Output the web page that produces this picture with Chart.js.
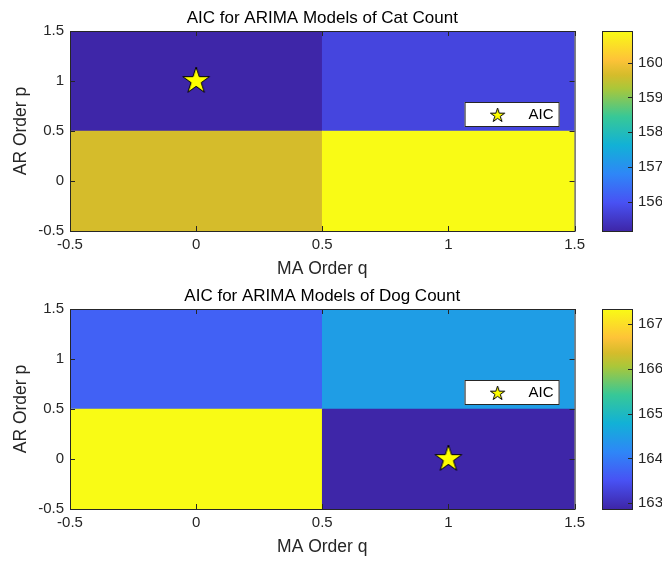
<!DOCTYPE html>
<html>
<head>
<meta charset="utf-8">
<title>AIC for ARIMA Models</title>
<script src="https://cdn.jsdelivr.net/npm/chart.js@4.4.1/dist/chart.umd.min.js"></script>
<style>
  body { margin: 0; background: #fff; }
  #wrap { position: relative; width: 662px; height: 561px; overflow: hidden; }
  #wrap canvas { position: absolute; }
</style>
</head>
<body>
<div id="wrap">
  <canvas id="catChart" width="590" height="280" style="left:0;top:0"></canvas>
  <canvas id="catBar" width="72" height="280" style="left:590px;top:0"></canvas>
  <canvas id="dogChart" width="590" height="280" style="left:0;top:278px"></canvas>
  <canvas id="dogBar" width="72" height="280" style="left:590px;top:278px"></canvas>
</div>
<script>
//Data
var maOrders = [0, 1];             // q, columns
var arOrders = [0, 1];             // p, rows
var catAicP0 = [159.65, 160.91];   // p = 0, q = 0 and 1
var catAicP1 = [155.16, 155.74];   // p = 1
var dogAicP0 = [167.34, 162.87];
var dogAicP1 = [163.69, 164.49];
var orderTicks = [-0.5, 0, 0.5, 1, 1.5];
var catBarTicks = [156, 157, 158, 159, 160];
var dogBarTicks = [163, 164, 165, 166, 167];

var FONT = "'Liberation Sans', Arial, sans-serif";
var INK = '#262626';

//parula colour map (approximate stops)
var parulaStops = [
  [0.000, 62, 38, 168],
  [0.143, 72, 82, 244],
  [0.286, 46, 135, 247],
  [0.429, 18, 177, 214],
  [0.571, 55, 200, 151],
  [0.714, 171, 199, 57],
  [0.780, 213, 188, 43],
  [0.857, 254, 195, 56],
  [1.000, 249, 251, 21]
];

function parula(t) {
  t = Math.max(0, Math.min(1, t));
  for (var i = 1; i < parulaStops.length; i++) {
    var b = parulaStops[i];
    if (t <= b[0]) {
      var a = parulaStops[i - 1];
      var f = (t - a[0]) / (b[0] - a[0]);
      return 'rgb(' + [1, 2, 3].map(function(k) {
        return Math.round(a[k] + f * (b[k] - a[k]));
      }).join(',') + ')';
    }
  }
  return 'rgb(249,251,21)';
}

//five point star used as point style
function makeStar(R) {
  var size = Math.ceil(2 * R + 4);
  var c = document.createElement('canvas');
  c.width = c.height = size;
  var g = c.getContext('2d');
  g.beginPath();
  for (var k = 0; k < 10; k++) {
    var r = k % 2 ? R * 0.382 : R;
    var ang = -Math.PI / 2 + k * Math.PI / 5;
    var px = size / 2 + r * Math.cos(ang), py = size / 2 + r * Math.sin(ang);
    if (k) g.lineTo(px, py); else g.moveTo(px, py);
  }
  g.closePath();
  g.fillStyle = '#ffff00';
  g.fill();
  g.strokeStyle = '#000';
  g.lineWidth = 1;
  g.stroke();
  return c;
}
var bigStar = makeStar(14);
var smallStar = makeStar(7.5);

//Box round the axes, with MATLAB style inner ticks
var axesBox = {
  id: 'axesBox',
  afterDatasetsDraw: function(chart, args, opts) {
    var ctx = chart.ctx, a = chart.chartArea, len = opts.len || 5;
    ctx.save();
    ctx.strokeStyle = INK;
    ctx.lineWidth = 1;
    ctx.beginPath();
    if (opts.x) {
      var xs = chart.scales[opts.x];
      xs.ticks.forEach(function(t) {
        var px = Math.round(xs.getPixelForValue(t.value)) + 0.5;
        ctx.moveTo(px, a.top); ctx.lineTo(px, a.top + len);
        ctx.moveTo(px, a.bottom); ctx.lineTo(px, a.bottom - len);
      });
    }
    if (opts.y) {
      var ys = chart.scales[opts.y];
      ys.ticks.forEach(function(t) {
        var py = Math.round(ys.getPixelForValue(t.value)) + 0.5;
        if (opts.left) { ctx.moveTo(a.left, py); ctx.lineTo(a.left + len, py); }
        if (opts.right) { ctx.moveTo(a.right, py); ctx.lineTo(a.right - len, py); }
      });
    }
    ctx.stroke();
    ctx.strokeRect(a.left + 0.5, a.top + 0.5, a.right - a.left, a.bottom - a.top);
    ctx.restore();
  }
};

//Legend box inside the axes (like MATLAB 'best')
var legendBox = {
  id: 'legendBox',
  afterDatasetsDraw: function(chart) {
    var ctx = chart.ctx, a = chart.chartArea;
    var ds = chart.data.datasets.filter(function(d) { return d.type === 'scatter'; })[0];
    var w = 95, h = 25;
    var x0 = a.right - 15 - w, y0 = a.top + 71;
    ctx.save();
    ctx.fillStyle = '#fff';
    ctx.fillRect(x0, y0, w, h);
    ctx.strokeStyle = INK;
    ctx.lineWidth = 1;
    ctx.strokeRect(x0 + 0.5, y0 + 0.5, w - 1, h - 1);
    ctx.drawImage(smallStar, x0 + 33 - smallStar.width / 2, y0 + h / 2 + 1 - smallStar.height / 2);
    ctx.fillStyle = '#000';
    ctx.font = '15px ' + FONT;
    ctx.textAlign = 'right';
    ctx.textBaseline = 'middle';
    ctx.fillText(ds.label, x0 + w - 6, y0 + h / 2 + 0.5);
    ctx.restore();
  }
};

function tickList(list) {
  return function(scale) {
    scale.ticks = list.map(function(v) { return { value: v }; });
  };
}

//Start of heat map
function heatChart(id, title, rowP0, rowP1) {
  var all = rowP0.concat(rowP1);
  var lo = Math.min.apply(null, all), hi = Math.max.apply(null, all);
  var rows = [rowP0, rowP1];
  var datasets = rows.map(function(row, i) {
    return {
      type: 'bar',
      label: 'p = ' + arOrders[i],
      xAxisID: 'xq',
      yAxisID: 'y',
      data: row.map(function() { return [arOrders[i] - 0.5, arOrders[i] + 0.5]; }),
      backgroundColor: row.map(function(v) { return parula((v - lo) / (hi - lo)); }),
      borderWidth: 0,
      barPercentage: 1,
      categoryPercentage: 1,
      grouped: false,
      order: 1
    };
  });
  //star on the lowest AIC
  var best = all.indexOf(lo);
  datasets.push({
    type: 'scatter',
    label: 'AIC',
    xAxisID: 'x',
    yAxisID: 'y',
    data: [{ x: maOrders[best % maOrders.length], y: arOrders[Math.floor(best / maOrders.length)] }],
    pointStyle: bigStar,
    pointRadius: 14,
    order: 0
  });

  return new Chart(document.getElementById(id), {
    type: 'bar',
    data: { labels: maOrders.map(String), datasets: datasets },
    plugins: [axesBox, legendBox],
    options: {
      responsive: false,
      animation: false,
      devicePixelRatio: 1,
      events: [],
      layout: { padding: { top: 0.6, right: 15, bottom: 0, left: 0 } },
      plugins: {
        legend: { display: false },
        tooltip: { enabled: false },
        title: {
          display: true, text: title, fullSize: false, color: '#000',
          font: { family: FONT, size: 17, weight: 'normal' },
          padding: { top: 8, bottom: 2 }
        },
        axesBox: { x: 'x', y: 'y', left: true, right: true }
      },
      scales: {
        xq: { type: 'category', display: false, offset: true },
        x: {
          type: 'linear', position: 'bottom', min: -0.5, max: 1.5, offset: false,
          grid: { display: false, drawTicks: false, offset: false },
          border: { display: false },
          afterBuildTicks: tickList(orderTicks),
          afterFit: function(s) { s.height = 49; },
          ticks: {
            padding: 5, color: INK, maxRotation: 0, autoSkip: false,
            font: { family: FONT, size: 15 },
            callback: function(v) { return String(v); }
          },
          title: {
            display: true, text: 'MA Order q', color: INK,
            font: { family: FONT, size: 17.5 }, padding: { top: 0, bottom: 0 }
          }
        },
        y: {
          type: 'linear', position: 'left', min: -0.5, max: 1.5,
          grid: { display: false, drawTicks: false },
          border: { display: false },
          afterBuildTicks: tickList(orderTicks),
          afterFit: function(s) { s.width = 70; },
          ticks: {
            padding: 6, color: INK, autoSkip: false,
            font: { family: FONT, size: 15 },
            callback: function(v) { return String(v); }
          },
          title: {
            display: true, text: 'AR Order p', color: INK,
            font: { family: FONT, size: 17.5 }, padding: { top: 10.5, bottom: 0 }
          }
        }
      }
    }
  });
}
//End of heat map

//Start of colour bar
function colourBar(id, rowP0, rowP1, ticks) {
  var all = rowP0.concat(rowP1);
  var lo = Math.min.apply(null, all), hi = Math.max.apply(null, all);
  return new Chart(document.getElementById(id), {
    type: 'bar',
    data: {
      labels: ['AIC'],
      datasets: [{
        data: [[lo, hi]],
        backgroundColor: function(c) {
          var a = c.chart.chartArea;
          if (!a) return 'rgba(0,0,0,0)';
          var g = c.chart.ctx.createLinearGradient(0, a.bottom, 0, a.top);
          parulaStops.forEach(function(s) {
            g.addColorStop(s[0], 'rgb(' + s[1] + ',' + s[2] + ',' + s[3] + ')');
          });
          return g;
        },
        borderWidth: 0,
        barPercentage: 1,
        categoryPercentage: 1
      }]
    },
    plugins: [axesBox],
    options: {
      responsive: false,
      animation: false,
      devicePixelRatio: 1,
      events: [],
      layout: { padding: { top: 31, right: 0, bottom: 49, left: 12 } },
      plugins: {
        legend: { display: false },
        tooltip: { enabled: false },
        axesBox: { y: 'y', right: true, len: 4 }
      },
      scales: {
        x: { type: 'category', display: false, offset: true },
        y: {
          type: 'linear', position: 'right', min: lo, max: hi,
          grid: { display: false, drawTicks: false },
          border: { display: false },
          afterBuildTicks: tickList(ticks),
          afterFit: function(s) { s.width = 30; },
          ticks: {
            padding: 6, color: INK, autoSkip: false,
            font: { family: FONT, size: 15 },
            callback: function(v) { return String(v); }
          }
        }
      }
    }
  });
}
//End of colour bar

heatChart('catChart', 'AIC for ARIMA Models of Cat Count', catAicP0, catAicP1);
colourBar('catBar', catAicP0, catAicP1, catBarTicks);
heatChart('dogChart', 'AIC for ARIMA Models of Dog Count', dogAicP0, dogAicP1);
colourBar('dogBar', dogAicP0, dogAicP1, dogBarTicks);
</script>
</body>
</html>
